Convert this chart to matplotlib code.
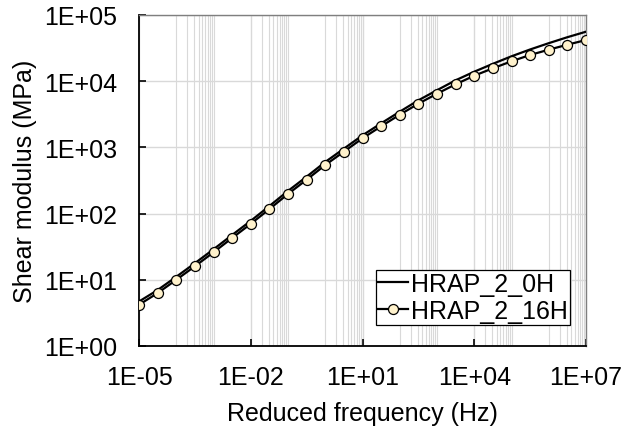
import math
import matplotlib.pyplot as plt
from matplotlib.ticker import FixedLocator, NullFormatter, FuncFormatter

plt.rcParams['font.family'] = ['Liberation Sans', 'DejaVu Sans']

# reduced frequency (Hz), half-decade steps
freq = [1e-05, 3.16e-05, 1e-04, 3.16e-04, 1e-03, 3.16e-03, 1e-02, 3.16e-02,
        1e-01, 3.16e-01, 1e+00, 3.16e+00, 1e+01, 3.16e+01, 1e+02, 3.16e+02,
        1e+03, 3.16e+03, 1e+04, 3.16e+04, 1e+05, 3.16e+05, 1e+06, 3.16e+06,
        1e+07]

g_0h = [4.7, 7.0, 11.1, 17.8, 28.9, 47.5, 77.7, 130, 220, 361, 602, 956,
        1523, 2310, 3463, 5144, 7310, 10320, 13910, 18310, 23790, 30140,
        37520, 46170, 55940]

g_16h = [4.2, 6.3, 10.0, 16, 26, 42.8, 70, 117, 198, 325, 542, 861,
         1372, 2081, 3120, 4572, 6474, 8980, 12110, 15660, 19990, 24890,
         29920, 35570, 41900]

x_ticks = [1e-05, 1e-02, 1e+01, 1e+04, 1e+07]
y_ticks = [1e+00, 1e+01, 1e+02, 1e+03, 1e+04, 1e+05]


def sci_label(v, pos):
    return '1E{:+03d}'.format(int(round(math.log10(v))))


fig = plt.figure(figsize=(6.31, 4.31), dpi=100)
ax = fig.add_axes([0.2203, 0.1949, 0.7084, 0.768])

ax.plot(freq, g_0h, color='black', lw=1.6, label='HRAP_2_0H', zorder=3)
ax.plot(freq, g_16h, color='black', lw=1.6, marker='o', ms=7.2,
        mfc='#FFF2CC', mec='black', mew=0.9, label='HRAP_2_16H', zorder=4)

ax.set_xscale('log')
ax.set_yscale('log')
ax.set_xlim(1e-05, 1e+07)
ax.set_ylim(1e+00, 1e+05)

# excel-like minor grid: only every other decade gets 2..9 lines
minor_x = [k * 10.0 ** e for e in (-4, -2, 0, 2, 4, 6) for k in range(1, 11)]
ax.xaxis.set_major_locator(FixedLocator(x_ticks))
ax.xaxis.set_minor_locator(FixedLocator(minor_x))
ax.xaxis.set_minor_formatter(NullFormatter())
ax.yaxis.set_major_locator(FixedLocator(y_ticks))
ax.yaxis.set_minor_locator(FixedLocator([]))
ax.xaxis.set_major_formatter(FuncFormatter(sci_label))
ax.yaxis.set_major_formatter(FuncFormatter(sci_label))

ax.grid(True, which='major', color='#D9D9D9', lw=1.0, zorder=0)
ax.grid(True, which='minor', axis='x', color='#D9D9D9', lw=0.8, zorder=0)
ax.set_axisbelow(True)

ax.tick_params(which='major', direction='in', length=5, width=1.2,
               labelsize=18, color='black')
ax.tick_params(axis='x', pad=14)
ax.tick_params(axis='y', pad=16)
ax.tick_params(which='minor', length=0)

for s in ('left', 'bottom'):
    ax.spines[s].set_color('black')
    ax.spines[s].set_linewidth(1.3)
for s in ('top', 'right'):
    ax.spines[s].set_color('#7F7F7F')
    ax.spines[s].set_linewidth(1.0)

ax.set_xlabel('Reduced frequency (Hz)', fontsize=18)
ax.set_ylabel('Shear modulus (MPa)', fontsize=18)
ax.xaxis.set_label_coords(0.5, -0.165)
ax.yaxis.set_label_coords(-0.228, 0.5)

leg = ax.legend(loc='lower right', bbox_to_anchor=(0.964, 0.063),
                borderaxespad=0, fontsize=18, handlelength=1.2,
                handletextpad=0.1, labelspacing=0.1, borderpad=0.1,
                fancybox=False, framealpha=1, edgecolor='black')
leg.get_frame().set_linewidth(0.9)

fig.savefig('out.png', dpi=100)
